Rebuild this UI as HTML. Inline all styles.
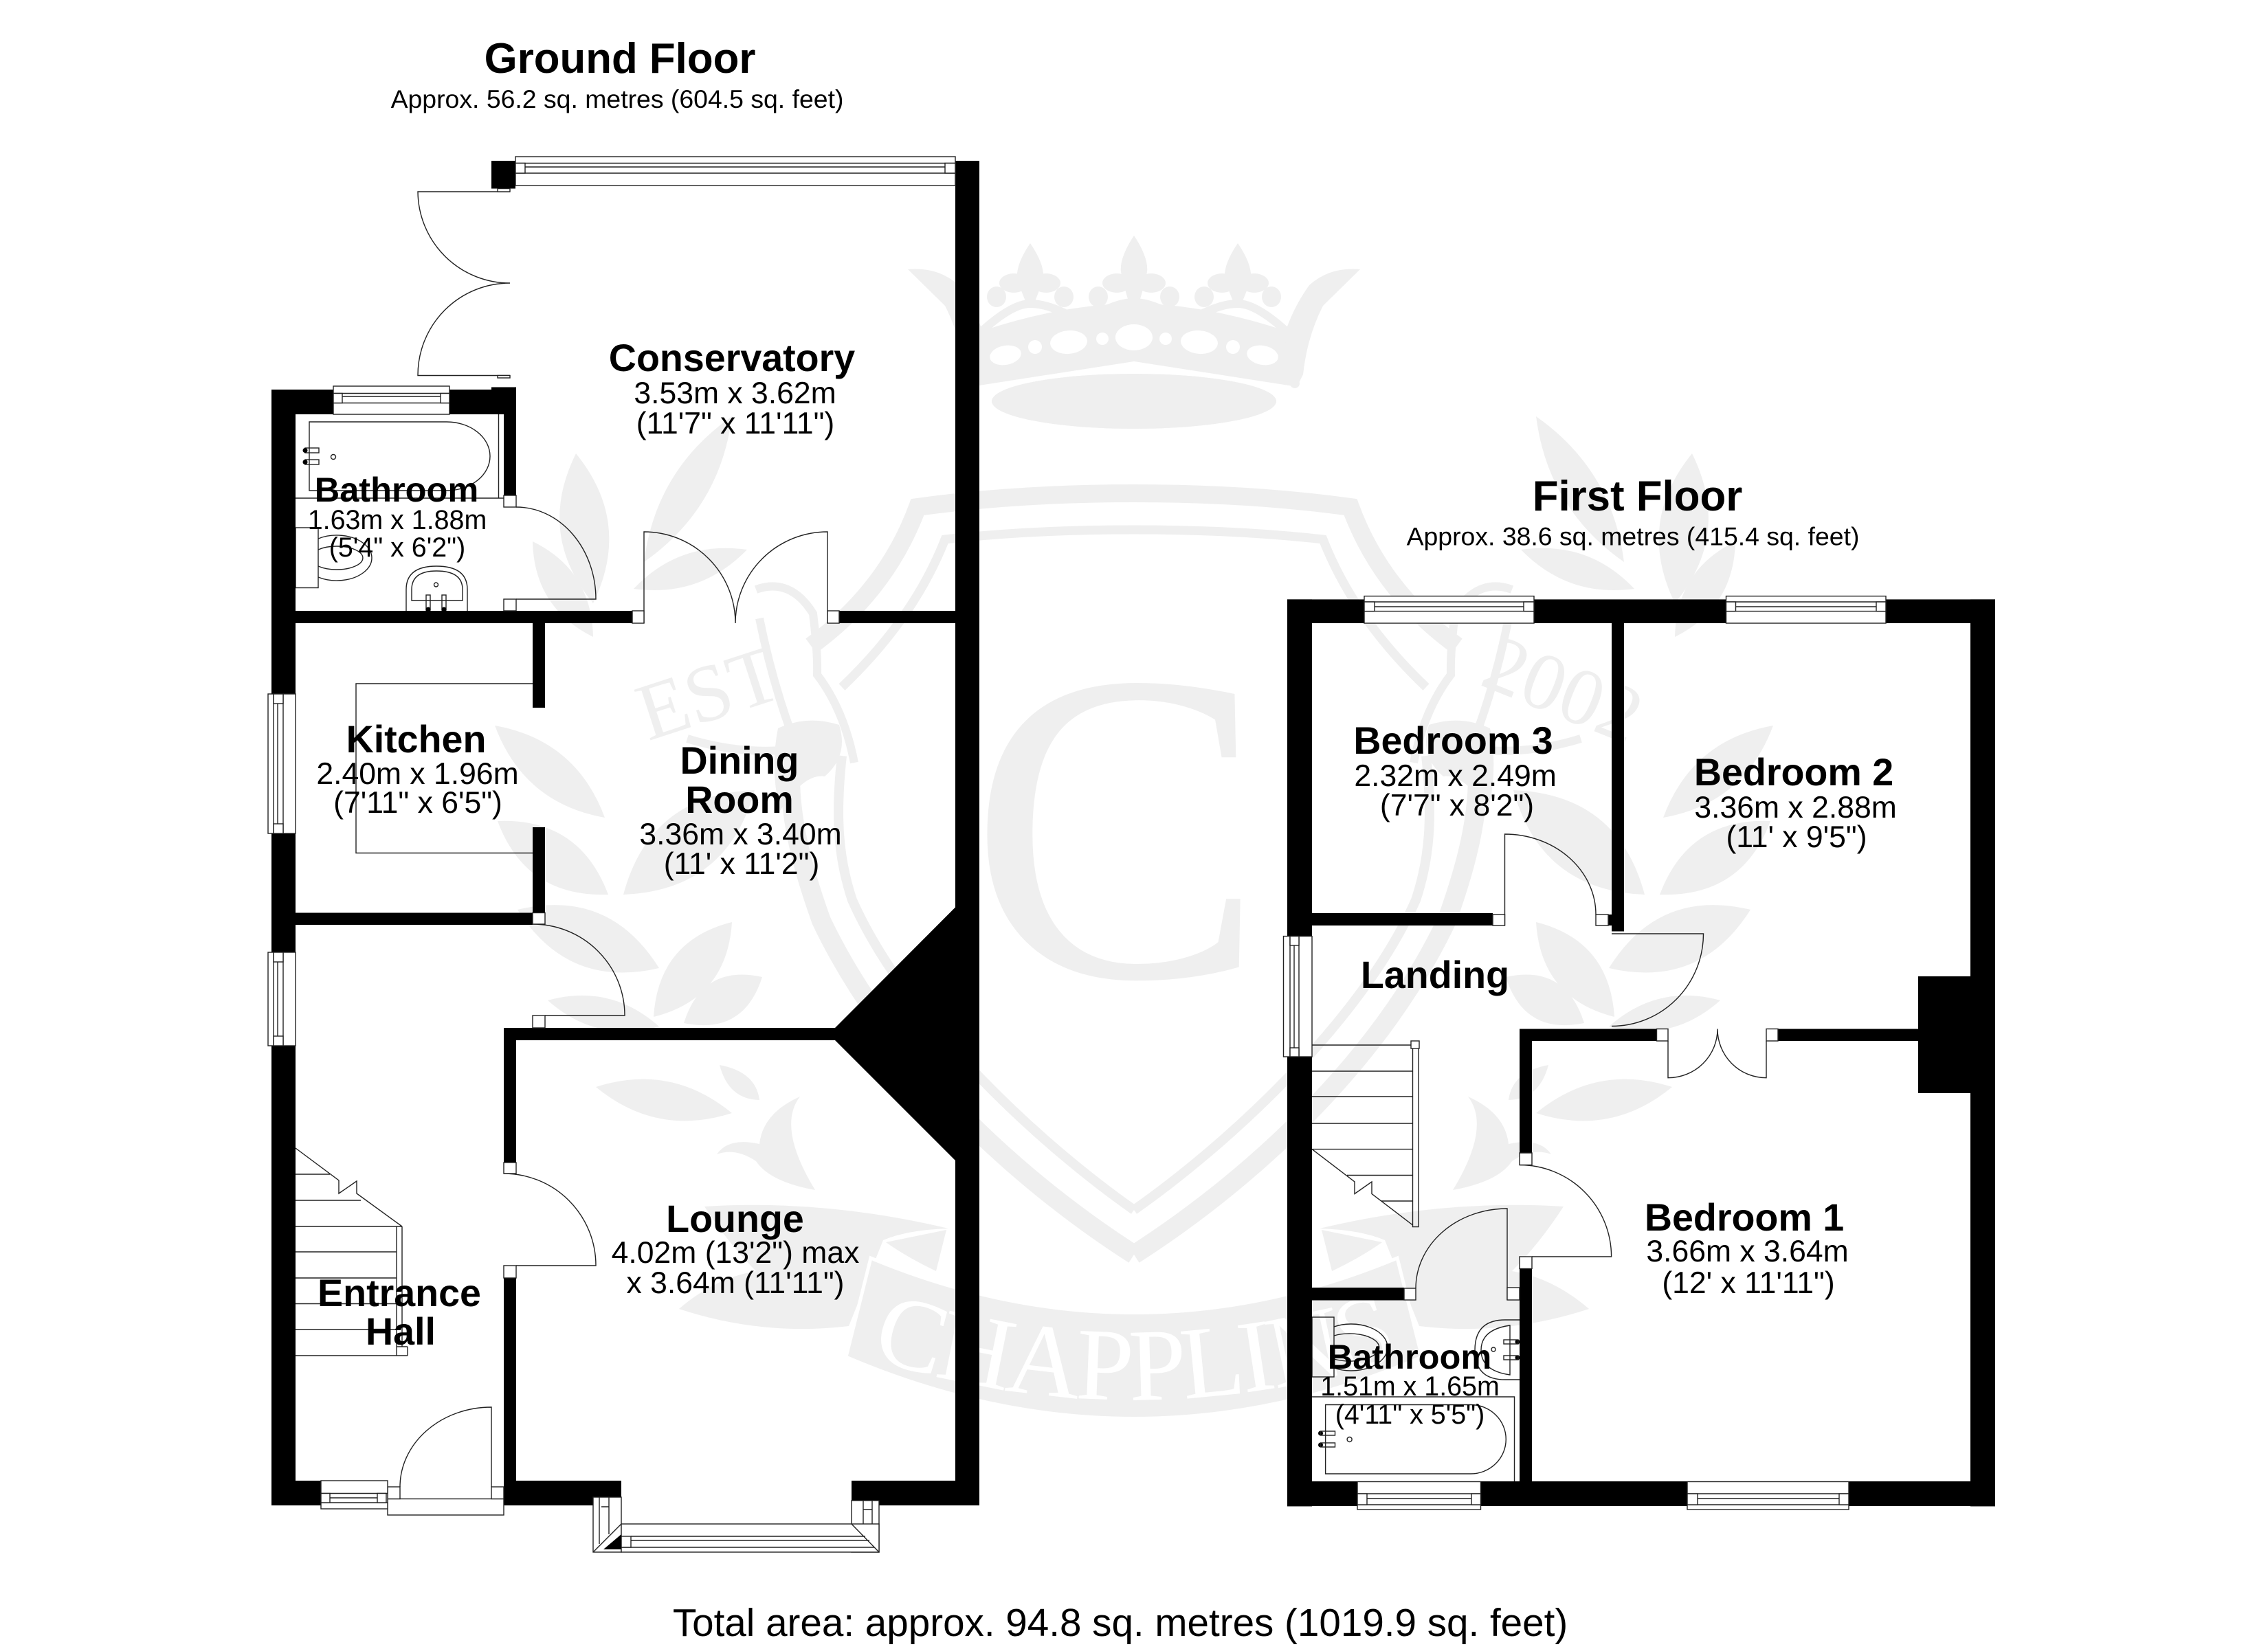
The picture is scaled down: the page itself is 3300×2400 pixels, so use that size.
<!DOCTYPE html>
<html><head><meta charset="utf-8"><title>Floor plan</title>
<style>
html,body{margin:0;padding:0;background:#fff}
svg{display:block}
text{font-family:"Liberation Sans",Arial,sans-serif;fill:#000;text-anchor:middle}
.n{font-weight:700;font-size:55.6px}
.s{font-weight:700;font-size:50.5px}
.d{font-size:44.5px}
.e{font-size:39.4px}
.t{font-weight:700;font-size:61.8px}
.a{font-size:37.4px}
.l{fill:none;stroke:#222;stroke-width:1.4}
.w{fill:#fff;stroke:#222;stroke-width:1.4}
.k{fill:#000}
.serif{font-family:"Liberation Serif",serif;fill:#efefef}
</style></head><body>
<svg xmlns="http://www.w3.org/2000/svg" width="3300" height="2400" viewBox="0 0 3300 2400">
<rect width="3300" height="2400" fill="#fff"/>

<!-- WATERMARK -->
<g>
<g id="half" fill="#efefef">
 <!-- crown -->
 <path d="M1650,526 L1412,563 L1428,482 Q1540,444 1650,441Z"/>
 <path d="M1321,392 Q1365,388 1395,415 Q1420,450 1432,490 L1412,561 L1404,545 Q1398,490 1375,445Z"/>
 <circle cx="1412" cy="507" r="7"/><circle cx="1416" cy="558" r="7"/>
 <path d="M1499,354 Q1520,385 1518,405 Q1512,425 1503,445 L1495,445 Q1486,425 1480,405 Q1478,385 1499,354Z"/>
 <path d="M1650,343 Q1671,375 1669,395 Q1663,425 1654,450 L1646,450 Q1637,425 1631,395 Q1629,375 1650,343Z"/>
 <ellipse cx="1625" cy="412" rx="21" ry="14"/><ellipse cx="1598" cy="432" rx="14" ry="15"/>
 <ellipse cx="1475" cy="412" rx="21" ry="14"/><ellipse cx="1522" cy="412" rx="21" ry="14"/>
 <ellipse cx="1450" cy="432" rx="14" ry="15"/><ellipse cx="1548" cy="432" rx="14" ry="15"/>
 <path d="M1420,490 Q1470,442 1499,442 Q1530,442 1575,470 Q1620,440 1650,440" fill="none" stroke="#efefef" stroke-width="12"/>
 <ellipse cx="1650" cy="584" rx="207" ry="40"/>
 <!-- jewels -->
 <g fill="#fff">
  <ellipse cx="1463" cy="517" rx="23" ry="14" transform="rotate(-10 1463 517)"/>
  <circle cx="1506" cy="505" r="10"/>
  <ellipse cx="1555" cy="498" rx="27" ry="17" transform="rotate(-5 1555 498)"/>
  <circle cx="1604" cy="493" r="9"/>
  <ellipse cx="1650" cy="491" rx="27" ry="19"/>
 </g>
 <!-- shield -->
 <path d="M1650,718 Q1480,718 1335,738 Q1290,860 1180,940" fill="none" stroke="#efefef" stroke-width="26"/>
 <path d="M1650,771 Q1500,771 1375,785 Q1330,900 1225,1000" fill="none" stroke="#efefef" stroke-width="13"/>
 <path d="M1650,1826 C1500,1730 1300,1560 1195,1340 C1170,1270 1150,1200 1150,1130" fill="none" stroke="#efefef" stroke-width="28"/>
 <path d="M1650,1761 C1520,1670 1320,1490 1240,1310 C1220,1250 1215,1190 1225,1100" fill="none" stroke="#efefef" stroke-width="14"/>
 <!-- lion / figure -->
 <path d="M1100,858 Q1150,840 1183,893 Q1190,950 1189,982 Q1228,1033 1243,1110" fill="none" stroke="#efefef" stroke-width="12"/>
 <path d="M1105,900 Q1125,1000 1160,1090 Q1080,1100 1000,1075" fill="none" stroke="#efefef" stroke-width="12"/>
 <path d="M1132,1060 Q1175,1040 1221,1055 Q1235,1100 1200,1130 Q1170,1125 1135,1180 Q1120,1120 1132,1060Z"/>
 <!-- leaves -->
 <path d="M838,660 Q780,777 863,878 Q920,761 838,660Z"/>
 <path d="M1065,606 Q1048,740 937,818 Q954,684 1065,606Z"/>
 <path d="M775,788 Q861,830 863,927 Q777,884 775,788Z"/>
 <path d="M922,857 Q1019,870 1087,800 Q989,786 922,857Z"/>
 <path d="M720,1056 Q838,1077 880,1190 Q762,1169 720,1056Z"/>
 <path d="M724,1195 Q843,1190 885,1302 Q765,1306 724,1195Z"/>
 <path d="M753,1324 Q886,1292 959,1409 Q826,1440 753,1324Z"/>
 <path d="M1065,1342 Q1058,1453 951,1480 Q958,1369 1065,1342Z"/>
 <path d="M1098,1150 Q1058,1296 907,1302 Q946,1156 1098,1150Z"/>
 <path d="M1109,1422 Q1082,1507 995,1489 Q1022,1403 1109,1422Z"/>
 <path d="M797,1456 Q888,1431 959,1494 Q868,1519 797,1456Z"/>
 <path d="M867,1582 Q976,1547 1065,1620 Q956,1655 867,1582Z"/>
 <path d="M1047,1550 Q1100,1560 1105,1601 Q1060,1600 1047,1550Z"/>
 <path d="M1164,1596 Q1130,1640 1186,1732 Q1120,1720 1100,1690 Q1070,1670 1043,1680 Q1060,1655 1105,1665 Q1110,1620 1164,1596Z"/>
 <!-- ribbon tail -->
 <path d="M1025,1756 Q1200,1745 1380,1788 Q1320,1790 1285,1805 L1235,1930 Q1110,1945 988,1905 Q1040,1860 1100,1850 Q1060,1810 1025,1756Z"/>
 <path d="M1289,1808 L1377,1790 L1362,1850 Q1320,1830 1289,1808Z"/>
</g>
<use href="#half" transform="translate(3300,0) scale(-1,1)"/>
<path d="M1267,1831 Q1650,1990 2033,1831 L2069,1975 Q1650,2154 1231,1975Z" fill="#efefef" stroke="#fff" stroke-width="5"/>
<path id="arc" d="M1262,1975 Q1650,2100 2038,1975" fill="none"/>
<text style="font-family:'Liberation Serif',serif;fill:#fff;font-size:150px;letter-spacing:-4px"><textPath href="#arc" startOffset="50%">CHAPPLINS</textPath></text>
<text class="serif" x="1410" y="1421" font-size="645" style="text-anchor:start">C</text>
<text class="serif" font-size="118" transform="translate(1043,1046) rotate(-18)">EST</text>
<text class="serif" font-size="118" transform="translate(2260,1040) rotate(22)">2002</text>
</g>

<!-- GROUND FLOOR fixtures -->
<g class="l">
 <!-- bath -->
 <path d="M430,725 H733 M725.5,603 V725"/>
 <path d="M450,614 H650 A63,50 0 0 1 650,714 H450 Z"/>
 <rect x="444" y="652" width="20" height="7"/><rect x="444" y="669" width="20" height="7"/>
 <circle cx="485" cy="665" r="3.5"/>
 <!-- toilet -->
 <rect x="430" y="768" width="33" height="87.5"/>
 <path d="M463,784 A51,33 0 1 1 463,840"/>
 <path d="M463,800 A38,17 0 1 1 463,824"/>
 <!-- sink -->
 <path d="M591,889 V858 Q591,824 635,824 Q680,824 680,858 V889"/>
 <path d="M599,874 V858 Q599,831 635,831 Q673,831 673,858 V874 Z"/>
 <rect x="620" y="866" width="6" height="22"/><rect x="643" y="866" width="6" height="22"/>
 <circle cx="634.5" cy="851" r="3"/>
 <!-- kitchen worktop -->
 <path d="M775,995 H518 V1241.5 H775"/>
 <!-- stairs -->
 <path d="M430,1671 L493,1718 V1737 L519,1719 V1737 L585,1785"/>
 <path d="M430,1709 H480 M430,1747 H525 M430,1785 H585 M430,1822 H577 M430,1860 H577 M430,1897.5 H577 M430,1935 H577 M430,1973 H593"/>
 <path d="M577,1785 V1973 M585,1785 V1960 M593,1960 V1973 M577,1960 H593"/>
 <!-- doors -->
 <path d="M742,279 H608 A134,134 0 0 0 742,412 A134,134 0 0 0 608,546.5 H742"/>
 <path d="M751,738 A116,134 0 0 1 867,872 H751"/>
 <path d="M937,907 V774 A133,133 0 0 1 1070,907 A134,133 0 0 1 1204,774 V907"/>
 <path d="M775,1345 A134,133 0 0 1 909,1478 H793"/>
 <path d="M733,1708 A134,134 0 0 1 867,1842 H751"/>
 <path d="M715,2164 V2048 A133,116 0 0 0 582,2164"/>
</g>
<g class="k">
 <circle cx="444" cy="655.5" r="3.5"/><circle cx="444" cy="672.5" r="3.5"/>
 <circle cx="623" cy="887" r="3.5"/><circle cx="646" cy="887" r="3.5"/>
 <circle cx="1921.5" cy="2086" r="3.5"/><circle cx="1921.5" cy="2103" r="3.5"/>
 <circle cx="2208" cy="1953" r="3.5"/><circle cx="2208" cy="1976" r="3.5"/>
</g>

<!-- GROUND FLOOR walls -->
<g class="k">
 <rect x="1390" y="234" width="35" height="1957"/>
 <rect x="715" y="234" width="35" height="40.5"/>
 <rect x="395" y="567" width="35" height="1624"/>
 <rect x="395" y="567" width="90" height="36"/>
 <rect x="654" y="567" width="97" height="36"/>
 <rect x="715" y="563.5" width="36" height="10"/>
 <rect x="733" y="563.5" width="18" height="158"/>
 <rect x="430" y="889" width="490" height="18"/>
 <rect x="1221" y="889" width="169" height="18"/>
 <rect x="775" y="889" width="18" height="141"/>
 <rect x="775" y="1204" width="18" height="125"/>
 <rect x="430" y="1328.5" width="345" height="17.5"/>
 <rect x="733" y="1496" width="482" height="18"/>
 <polygon points="1390,1320.5 1215,1496 1215,1514 1390,1689"/>
 <rect x="733" y="1496" width="18" height="196"/>
 <rect x="733" y="1860" width="18" height="331"/>
 <rect x="395" y="2155" width="72" height="36"/>
 <rect x="733" y="2155" width="171" height="36"/>
 <rect x="1239" y="2155" width="186" height="36"/>
</g>

<!-- GROUND FLOOR jambs / windows -->
<g class="w">
 <rect x="733" y="721" width="18" height="17"/>
 <rect x="733" y="872" width="18" height="17"/>
 <rect x="920" y="889" width="17" height="18"/>
 <rect x="1204" y="889" width="17" height="18"/>
 <rect x="775" y="1328.5" width="18" height="16.5"/>
 <rect x="775" y="1478" width="18" height="18"/>
 <rect x="733" y="1692" width="18" height="16"/>
 <rect x="733" y="1842" width="18" height="18"/>
 <rect x="724" y="274.5" width="18" height="4.5"/>
 <rect x="724" y="546.5" width="18" height="3.5"/>
 <!-- conservatory roof window -->
 <rect x="750" y="228" width="640" height="42"/>
 <path d="M750,237.5 H1390 M764,243 H1375 M750,252 H1390"/>
 <rect x="750" y="237.5" width="14" height="14.5"/><rect x="1375" y="237.5" width="15" height="14.5"/>
 <!-- bath window -->
 <rect x="485" y="562" width="169" height="41"/>
 <path d="M485,572.5 H654 M498,577 H641 M485,586.5 H654"/>
 <rect x="485" y="572.5" width="13" height="14"/><rect x="641" y="572.5" width="13" height="14"/>
 <!-- kitchen window -->
 <rect x="390" y="1010" width="40" height="203"/>
 <path d="M398,1010 V1213 M404,1024 V1199 M412,1010 V1213"/>
 <rect x="398" y="1010" width="14" height="14"/><rect x="398" y="1199" width="14" height="14"/>
 <!-- hall window -->
 <rect x="390" y="1386" width="40" height="136"/>
 <path d="M398,1386 V1522 M404,1400 V1508 M412,1386 V1522"/>
 <rect x="398" y="1386" width="14" height="14"/><rect x="398" y="1508" width="14" height="14"/>
 <!-- front step -->
 <rect x="564" y="2181.5" width="169" height="23.5"/>
 <rect x="564" y="2164" width="18" height="17.5"/>
 <rect x="715" y="2164" width="18" height="17.5"/>
 <!-- front window -->
 <rect x="467" y="2155" width="97" height="41"/>
 <path d="M467,2173.5 H564 M480,2180 H549 M467,2187 H564"/>
 <rect x="467" y="2173.5" width="13" height="13.5"/><rect x="549" y="2173.5" width="13" height="13.5"/>
 <!-- bay -->
 <rect x="863" y="2179" width="41" height="80"/>
 <path d="M872,2179 V2247 M886,2179 V2233 M863,2259 L904,2218 M875,2193 H886"/>
 <rect x="1239" y="2184" width="40" height="75"/>
 <path d="M1256,2184 V2238 M1269,2184 V2249 M1239,2218 L1279,2259 M1256,2197 H1269"/>
 <rect x="904" y="2218" width="375" height="41"/>
 <path d="M918,2236 H1259 M918,2242 H1265 M904,2252 H1272 M1239,2218 L1279,2259"/>
 <rect x="904" y="2236" width="14" height="16"/>
</g>
<polygon points="878,2255 904,2233 904,2255" class="k"/>

<!-- FIRST FLOOR fixtures -->
<g class="l">
 <!-- stairs -->
 <path d="M1909,1672.6 L1971,1720 V1737.5 L1996,1720 V1737.5 L2055.5,1783"/>
 <path d="M1909,1521 H2055.5 M1909,1559 H2055.5 M1909,1596 H2055.5 M1909,1635 H2055.5 M1909,1672.6 H2055.5 M1960,1710.5 H2055.5 M2010,1748 H2055.5"/>
 <path d="M2055.5,1515 V1785.6 H2064 V1515"/>
 <rect x="2053" y="1515" width="12" height="11" fill="#fff"/>
 <!-- toilet -->
 <rect x="1909" y="1917" width="32" height="87"/>
 <path d="M1941,1931 A53,34 0 1 1 1941,1991"/>
 <path d="M1941,1944 A43,20 0 1 1 1941,1978"/>
 <!-- sink -->
 <path d="M2211,1921 H2190 Q2146,1921 2146,1965 Q2146,2008 2190,2008 H2211"/>
 <path d="M2197,1929 Q2155,1935 2155,1965 Q2155,1995 2197,2001 Z"/>
 <rect x="2188" y="1950" width="21" height="6"/><rect x="2188" y="1973" width="21" height="6"/>
 <circle cx="2173" cy="1964" r="3"/>
 <!-- bath -->
 <path d="M1909,2033 H2203.5 V2156"/>
 <path d="M1928.6,2044.5 H2140 A51,50 0 0 1 2140,2145 H1928.6 Z"/>
 <rect x="1921.5" y="2083" width="21" height="6"/><rect x="1921.5" y="2100" width="21" height="6"/>
 <circle cx="1963.6" cy="2095" r="3.5"/>
 <!-- doors -->
 <path d="M2189.5,1347 V1214 A132.5,117 0 0 1 2322,1331"/>
 <path d="M2345,1359 H2478.5 A133.5,134.5 0 0 1 2345,1493.5"/>
 <path d="M2427,1515 V1568.7 A72,71 0 0 0 2499,1497.5 A71,71 0 0 0 2570,1568.7 V1515"/>
 <path d="M2211,1695.5 A133.6,133.5 0 0 1 2344.6,1829 H2229"/>
 <path d="M2193,1892 V1759 A133,116 0 0 0 2060,1875"/>
</g>

<!-- FIRST FLOOR walls -->
<g class="k">
 <rect x="1873" y="872.4" width="1030" height="34.6"/>
 <rect x="1873" y="872.4" width="36" height="1320"/>
 <rect x="2867" y="872.4" width="36" height="1320"/>
 <rect x="1873" y="2156" width="1030" height="36"/>
 <rect x="2345" y="907" width="18" height="448.5"/>
 <rect x="2340" y="1331" width="23" height="16"/>
 <rect x="1909" y="1329" width="263" height="18"/>
 <rect x="2211" y="1497.5" width="199.5" height="17.5"/>
 <rect x="2587" y="1497.5" width="204" height="17.5"/>
 <rect x="2791" y="1421" width="76" height="170"/>
 <rect x="2211" y="1497.5" width="18" height="181"/>
 <rect x="2211" y="1846.5" width="18" height="310"/>
 <rect x="1909" y="1874" width="134" height="18.5"/>
</g>

<!-- FIRST FLOOR jambs / windows -->
<g class="w">
 <rect x="2322" y="1331" width="18" height="16"/>
 <rect x="2172" y="1331" width="17.5" height="16"/>
 <rect x="2410.5" y="1497.5" width="16.5" height="17.5"/>
 <rect x="2570" y="1497.5" width="17" height="17.5"/>
 <rect x="2211" y="1678" width="18" height="17.5"/>
 <rect x="2211" y="1829" width="18" height="17.5"/>
 <rect x="2043" y="1875" width="17" height="17"/>
 <rect x="2193" y="1874" width="18" height="18"/>
 <!-- top windows -->
 <rect x="1985" y="867.6" width="247" height="39.4"/>
 <path d="M1985,876 H2232 M2000,883 H2217 M1985,889.6 H2232"/>
 <rect x="1985" y="876" width="15" height="13.6"/><rect x="2217" y="876" width="15" height="13.6"/>
 <rect x="2511.5" y="867.6" width="232.5" height="39.4"/>
 <path d="M2511.5,876 H2744 M2525,883 H2730 M2511.5,889.6 H2744"/>
 <rect x="2511.5" y="876" width="14" height="13.6"/><rect x="2730" y="876" width="14" height="13.6"/>
 <!-- landing window -->
 <rect x="1867.5" y="1362.6" width="41.5" height="175.4"/>
 <path d="M1877,1362.6 V1538 M1883,1376 V1525 M1890,1362.6 V1538"/>
 <rect x="1877" y="1362.6" width="13" height="13.4"/><rect x="1877" y="1525" width="13" height="13"/>
 <!-- bottom windows -->
 <rect x="1975" y="2156.5" width="179.5" height="40.5"/>
 <path d="M1975,2174 H2154.5 M1989,2181 H2141 M1975,2190 H2154.5"/>
 <rect x="1975" y="2174" width="14" height="16"/><rect x="2141" y="2174" width="13.5" height="16"/>
 <rect x="2455" y="2156.5" width="235" height="40.5"/>
 <path d="M2455,2174 H2690 M2470,2181 H2676 M2455,2190 H2690"/>
 <rect x="2455" y="2174" width="15" height="16"/><rect x="2676" y="2174" width="14" height="16"/>
</g>

<!-- LABELS -->
<text class="t" x="902" y="106">Ground Floor</text>
<text class="a" x="898" y="157">Approx. 56.2 sq. metres (604.5 sq. feet)</text>

<text class="n" x="1065" y="540">Conservatory</text>
<text class="d" x="1069.5" y="587">3.53m x 3.62m</text>
<text class="d" x="1070" y="631">(11'7" x 11'11")</text>

<text class="s" x="577" y="730">Bathroom</text>
<text class="e" x="578" y="770">1.63m x 1.88m</text>
<text class="e" x="578" y="810">(5'4" x 6'2")</text>

<text class="n" x="605.5" y="1095">Kitchen</text>
<text class="d" x="607.5" y="1141">2.40m x 1.96m</text>
<text class="d" x="608" y="1183">(7'11" x 6'5")</text>

<text class="n" x="1076" y="1126">Dining</text>
<text class="n" x="1076" y="1183">Room</text>
<text class="d" x="1077.5" y="1229">3.36m x 3.40m</text>
<text class="d" x="1079" y="1272">(11' x 11'2")</text>

<text class="n" x="1069.5" y="1793">Lounge</text>
<text class="d" x="1070" y="1838">4.02m (13'2") max</text>
<text class="d" x="1070" y="1882">x 3.64m (11'11")</text>

<text class="n" x="581" y="1901">Entrance</text>
<text class="n" x="583" y="1957">Hall</text>

<text class="t" x="2382.5" y="743">First Floor</text>
<text class="a" x="2376" y="793.5">Approx. 38.6 sq. metres (415.4 sq. feet)</text>

<text class="n" x="2114.5" y="1097">Bedroom 3</text>
<text class="d" x="2117.6" y="1144">2.32m x 2.49m</text>
<text class="d" x="2120" y="1187">(7'7" x 8'2")</text>

<text class="n" x="2610" y="1143">Bedroom 2</text>
<text class="d" x="2612.6" y="1190">3.36m x 2.88m</text>
<text class="d" x="2614" y="1233">(11' x 9'5")</text>

<text class="n" x="2088" y="1438">Landing</text>

<text class="n" x="2538" y="1791">Bedroom 1</text>
<text class="d" x="2542.5" y="1836">3.66m x 3.64m</text>
<text class="d" x="2544" y="1882">(12' x 11'11")</text>

<text class="s" x="2051" y="1992">Bathroom</text>
<text class="e" x="2051.5" y="2031">1.51m x 1.65m</text>
<text class="e" x="2051.5" y="2072">(4'11" x 5'5")</text>

<text x="1630" y="2381" font-size="56.6">Total area: approx. 94.8 sq. metres (1019.9 sq. feet)</text>
</svg>
</body></html>
